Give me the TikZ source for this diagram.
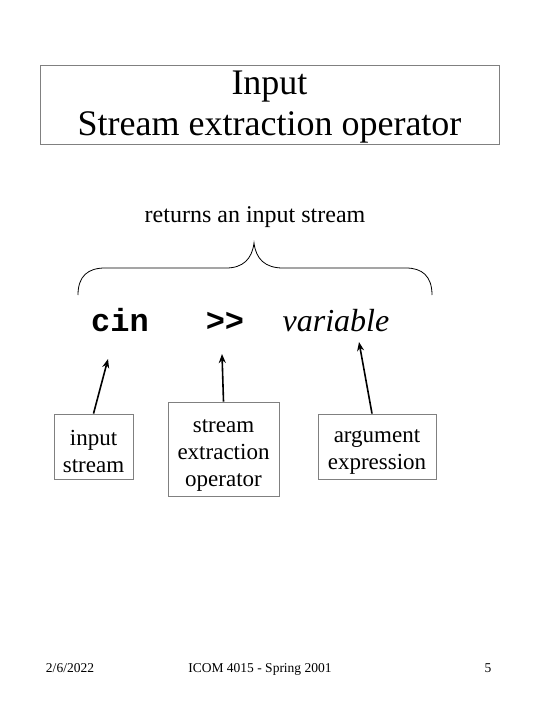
\documentclass[tikz,border=0pt]{standalone}
\usepackage{fontspec}
\setmainfont{Liberation Serif}
\newfontfamily\codefont{Liberation Mono}
\usetikzlibrary{arrows.meta}
\definecolor{boxgray}{RGB}{128,128,128}
\begin{document}
\begin{tikzpicture}[x=1pt,y=-1pt,
  gbox/.style={draw=boxgray, line width=0.8pt, inner sep=0pt},
  lbl/.style={align=center, inner sep=0pt, font=\fontsize{23}{27}\selectfont},
  codetxt/.style={anchor=base, inner sep=0pt},
  foot/.style={anchor=base, inner sep=0pt, font=\fontsize{13.5}{16}\selectfont},
  arr/.style={line width=1.6pt, -{Stealth[length=9pt,width=7pt]}}]
\useasboundingbox (0,0) rectangle (540,720);
\fill[white] (0,0) rectangle (540,720);

% title
\node[gbox, minimum width=459pt, minimum height=79pt] (titlebox) at (269.5,104.5) {};
\node[anchor=base, inner sep=0pt, font=\fontsize{36}{41}\selectfont] (t1) at (269.5,94) {Input};
\node[anchor=base, inner sep=0pt, font=\fontsize{36}{41}\selectfont] (t2) at (269.5,135) {Stream extraction operator};

% brace label
\node[anchor=base, inner sep=0pt, font=\fontsize{24}{28}\selectfont] (ret) at (255,222) {returns an input stream};

% brace
\draw[line width=0.8pt] (78,295) .. controls (78,276) and (88,268) .. (105,268) -- (226,268)
  .. controls (243,268) and (252,259) .. (254,243)
  .. controls (256,259) and (265,268) .. (283,268) -- (406,268)
  .. controls (422,268) and (432,276) .. (432,295);

% code line
\node[codetxt, font=\codefont\bfseries\fontsize{32}{32}\selectfont] (cin) at (120,331) {cin};
\node[codetxt, font=\codefont\bfseries\fontsize{32}{32}\selectfont] (op) at (225,331) {>>};
\node[codetxt, font=\itshape\fontsize{32}{32}\selectfont] (var) at (336,331) {variable};

% label boxes
\node[gbox, minimum width=79pt, minimum height=65pt] (b1) at (93.5,446.5) {};
\node[gbox, minimum width=111pt, minimum height=94pt] (b2) at (223.5,449) {};
\node[gbox, minimum width=118pt, minimum height=65pt] (b3) at (377,446.5) {};
\node[lbl, yshift=-5pt] (b1t) at (b1.center) {input\\stream};
\node[lbl, yshift=-6pt] (b2t) at (b2.center) {stream\\extraction\\operator};
\node[lbl, yshift=-5pt] (b3t) at (b3.center) {argument\\expression};

% arrow targets
\coordinate (a1) at (108,359);
\coordinate (a2) at (222,354);
\coordinate (a3) at (359,342);
\draw[arr] (b1.north) -- (a1);
\draw[arr] (b2.north) -- (a2);
\draw[arr] ([xshift=-5pt]b3.north) -- (a3);

% footer
\node[foot] (date) at (70,672) {2/6/2022};
\node[foot] (course) at (260,672) {ICOM 4015 - Spring 2001};
\node[foot] (page) at (488,672) {5};
\end{tikzpicture}
\end{document}
